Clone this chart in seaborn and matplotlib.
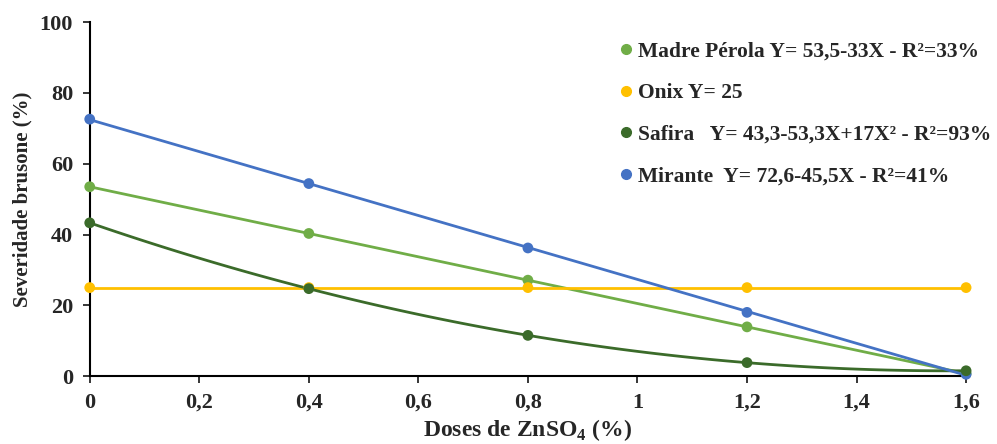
import numpy as np
import pandas as pd
import matplotlib.pyplot as plt
import seaborn as sns
from matplotlib.lines import Line2D

# Data
doses = [0, 0.4, 0.8, 1.2, 1.6]
madre_perola = [53.5, 40.3, 27.1, 13.9, 0.7]
onix = [25, 25, 25, 25, 25]
safira = [43.3, 24.7, 11.5, 3.8, 1.5]
mirante = [72.6, 54.4, 36.2, 18.0, 0.5]

labels = [
    "Madre Pérola Y= 53,5-33X - R²=33%",
    "Onix Y= 25",
    "Safira   Y= 43,3-53,3X+17X² - R²=93%",
    "Mirante  Y= 72,6-45,5X - R²=41%",
]
colors = ["#70ad47", "#ffc000", "#3b6b2a", "#4472c4"]
orders = [1, 1, 2, 1]
series = [madre_perola, onix, safira, mirante]
point_z = [3, 3, 5, 4]

sns.set_style("white")
plt.rcParams["font.family"] = ["Liberation Serif", "DejaVu Serif"]
plt.rcParams["font.weight"] = "bold"
plt.rcParams["mathtext.fontset"] = "custom"
plt.rcParams["mathtext.rm"] = "Liberation Serif"
plt.rcParams["mathtext.bf"] = "Liberation Serif:bold"

fig, ax = plt.subplots(figsize=(9.97, 4.44), dpi=100)
fig.subplots_adjust(left=0.090, right=0.969, top=0.950, bottom=0.153)

for vals, col, order, z in zip(series, colors, orders, point_z):
    df = pd.DataFrame({"x": doses, "y": vals})
    sns.regplot(data=df, x="x", y="y", order=order, ci=None, ax=ax, color=col,
                scatter_kws={"s": 60, "alpha": 1, "zorder": z, "edgecolor": "none",
                             "clip_on": False},
                line_kws={"lw": 2, "zorder": 2})

ax.set_xlim(0, 1.6)
ax.set_ylim(0, 100)
ax.set_xticks(np.arange(0, 1.61, 0.2))
ax.set_xticklabels(["0", "0,2", "0,4", "0,6", "0,8", "1", "1,2", "1,4", "1,6"])
ax.set_yticks(range(0, 101, 20))
ax.tick_params(axis="both", labelsize=16, length=5, width=1.3, direction="out",
               bottom=True, left=True, pad=7)
for t in ax.get_xticklabels() + ax.get_yticklabels():
    t.set_fontweight("bold")

sns.despine(ax=ax)
for s in ["left", "bottom"]:
    ax.spines[s].set_linewidth(1.5)
    ax.spines[s].set_color("black")

ax.set_xlabel("Doses de ZnSO$_\\mathbf{4}$ (%)", fontsize=17, fontweight="bold", labelpad=3)
ax.set_ylabel("Severidade brusone (%)", fontsize=15, fontweight="bold", labelpad=5)

handles = [Line2D([], [], marker="o", ls="none", color=c, markersize=7) for c in colors]
leg = ax.legend(handles, labels, loc="upper left", bbox_to_anchor=(0.578, 1.0),
                frameon=False, prop={"size": 15.5, "weight": "bold"},
                handletextpad=0.05, labelspacing=1.0, handlelength=1.0)

fig.savefig("out.png", dpi=100)
